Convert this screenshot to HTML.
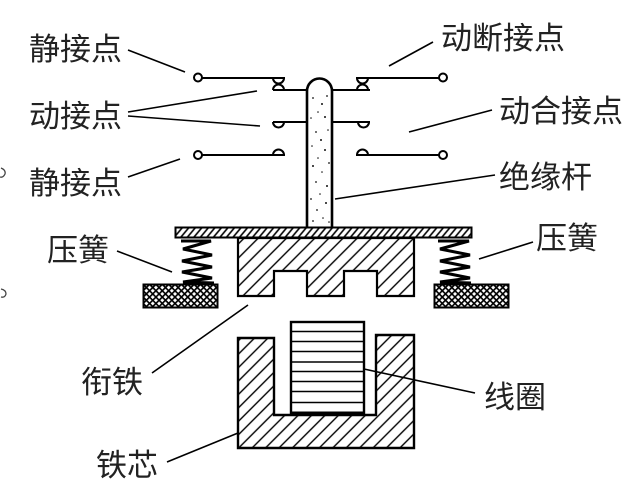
<!DOCTYPE html>
<html><head><meta charset="utf-8">
<style>
html,body{margin:0;padding:0;background:#fff;}
body{width:640px;height:487px;overflow:hidden;}
svg{display:block;}
text{font-family:"Liberation Sans","Noto Sans CJK SC","WenQuanYi Zen Hei",sans-serif;font-size:31px;fill:#222;}
</style></head>
<body>
<svg width="640" height="487" viewBox="0 0 640 487" xmlns="http://www.w3.org/2000/svg">
<defs>
  <pattern id="hPlate" width="5" height="5" patternUnits="userSpaceOnUse" patternTransform="rotate(40)">
    <rect width="5" height="5" fill="#fff"/>
    <line x1="1" y1="0" x2="1" y2="5" stroke="#000" stroke-width="1.6"/>
  </pattern>
  <pattern id="hArm" width="10" height="10" patternUnits="userSpaceOnUse" patternTransform="rotate(45)">
    <rect width="10" height="10" fill="#fff"/>
    <line x1="1" y1="0" x2="1" y2="10" stroke="#000" stroke-width="1.4"/>
  </pattern>
  <pattern id="hCore" width="9.5" height="10" patternUnits="userSpaceOnUse" patternTransform="rotate(45)">
    <rect width="10" height="10" fill="#fff"/>
    <line x1="1" y1="0" x2="1" y2="10" stroke="#000" stroke-width="1.4"/>
  </pattern>
  <pattern id="xh" width="4.5" height="4.5" patternUnits="userSpaceOnUse" patternTransform="rotate(45)">
    <rect width="4.5" height="4.5" fill="#fff"/>
    <line x1="0" y1="0.8" x2="4.5" y2="0.8" stroke="#000" stroke-width="1.7"/>
    <line x1="0.8" y1="0" x2="0.8" y2="4.5" stroke="#000" stroke-width="1.7"/>
  </pattern>
</defs>

<!-- edge artifacts -->
<path d="M1 168 Q6 170 5 174 Q3 178 0 177" fill="none" stroke="#444" stroke-width="1.3"/>
<path d="M1 289 Q6 290 6 294 Q5 298 1 297" fill="none" stroke="#444" stroke-width="1.3"/>

<!-- ===== contacts ===== -->
<g stroke="#000" stroke-width="2" fill="none">
  <!-- left static top -->
  <circle cx="198" cy="77.5" r="4" fill="#fff"/>
  <line x1="202" y1="78" x2="285" y2="78"/>
  <!-- right static top -->
  <circle cx="443" cy="77.5" r="4" fill="#fff"/>
  <line x1="356" y1="78" x2="439" y2="78"/>
  <!-- hourglass contacts -->
  <path d="M273 78 A5.5 5.5 0 0 0 284 78"/>
  <path d="M273 90 A5.5 5.5 0 0 1 284 90"/>
  <path d="M357 78 A5.5 5.5 0 0 0 368 78"/>
  <path d="M357 90 A5.5 5.5 0 0 1 368 90"/>
  <!-- moving bars -->
  <line x1="273" y1="90" x2="370" y2="90"/>
  <line x1="273" y1="122" x2="370" y2="122"/>
  <path d="M273 122 A5.5 5.5 0 0 0 284 122"/>
  <path d="M358 122 A5.5 5.5 0 0 0 369 122"/>
  <!-- bottom static -->
  <circle cx="198" cy="155" r="4" fill="#fff"/>
  <line x1="202" y1="155" x2="285" y2="155"/>
  <path d="M273 155 A5.5 5.5 0 0 1 284 155"/>
  <circle cx="443" cy="155" r="4" fill="#fff"/>
  <line x1="356" y1="155" x2="439" y2="155"/>
  <path d="M357 155 A5.5 5.5 0 0 1 368 155"/>
</g>

<!-- ===== rod ===== -->
<path d="M307 228 L307 91 A12.5 12.5 0 0 1 332 91 L332 228" fill="#fff" stroke="#000" stroke-width="2.6"/>
<g fill="#111">
  <circle cx="313" cy="98" r="0.9"/><circle cx="322" cy="104" r="1"/><circle cx="318" cy="112" r="0.8"/>
  <circle cx="327" cy="96" r="0.9"/><circle cx="311" cy="118" r="0.8"/><circle cx="325" cy="117" r="1"/>
  <circle cx="316" cy="132" r="0.9"/><circle cx="328" cy="130" r="0.8"/><circle cx="321" cy="140" r="1"/>
  <circle cx="312" cy="146" r="0.8"/><circle cx="325" cy="150" r="1"/><circle cx="318" cy="158" r="0.8"/>
  <circle cx="329" cy="163" r="0.9"/><circle cx="313" cy="166" r="1"/><circle cx="322" cy="172" r="0.8"/>
  <circle cx="316" cy="182" r="0.9"/><circle cx="327" cy="186" r="1"/><circle cx="320" cy="194" r="0.8"/>
  <circle cx="311" cy="199" r="0.9"/><circle cx="326" cy="203" r="1"/><circle cx="317" cy="210" r="0.9"/>
  <circle cx="323" cy="218" r="0.8"/><circle cx="313" cy="221" r="0.9"/><circle cx="329" cy="222" r="0.8"/>
</g>

<!-- ===== plate ===== -->
<rect x="175.5" y="227.5" width="296" height="10" fill="url(#hPlate)" stroke="#000" stroke-width="2"/>

<!-- ===== armature ===== -->
<path d="M238 238 L414 238 L414 296 L377 296 L377 271 L344 271 L344 296 L307 296 L307 271 L274 271 L274 296 L238 296 Z" fill="url(#hArm)" stroke="#000" stroke-width="2.2"/>

<!-- ===== springs ===== -->
<g fill="none" stroke="#000" stroke-width="3" stroke-linejoin="miter">
  <polyline points="181,241 211,241 183,249 212,255 182,261 212,267 182,272 212,278 183,282 214,283"/>
  <polyline points="438,241 469,241 440,249 470,255 440,261 470,267 440,272 470,278 440,282 471,283"/>
</g>

<!-- ===== bases ===== -->
<rect x="143.5" y="284.5" width="74" height="23" fill="url(#xh)" stroke="#000" stroke-width="2"/>
<rect x="434.5" y="284.5" width="74" height="23" fill="url(#xh)" stroke="#000" stroke-width="2"/>

<!-- ===== core ===== -->
<path d="M238 338 L274 338 L274 415 L376 415 L376 335 L414 335 L414 448 L238 448 Z" fill="url(#hCore)" stroke="#000" stroke-width="2.4"/>

<!-- ===== coil ===== -->
<rect x="291" y="322" width="73" height="92" fill="#fff" stroke="#000" stroke-width="2.4"/>
<g stroke="#000" stroke-width="1.6">
  <line x1="291" y1="331.5" x2="364" y2="331.5"/>
  <line x1="291" y1="341.5" x2="364" y2="341.5"/>
  <line x1="291" y1="351.5" x2="364" y2="351.5"/>
  <line x1="291" y1="362" x2="364" y2="362"/>
  <line x1="291" y1="371.5" x2="364" y2="371.5"/>
  <line x1="291" y1="381.5" x2="364" y2="381.5"/>
  <line x1="291" y1="391.5" x2="364" y2="391.5"/>
  <line x1="291" y1="402.5" x2="364" y2="402.5"/>
</g>
<line x1="291" y1="413" x2="364" y2="413" stroke="#000" stroke-width="3"/>

<!-- ===== leader lines ===== -->
<g stroke="#000" stroke-width="1.6">
  <line x1="128" y1="50" x2="185" y2="72"/>
  <line x1="128" y1="112" x2="257" y2="91"/>
  <line x1="128" y1="116" x2="260" y2="126"/>
  <line x1="128" y1="177" x2="180" y2="159"/>
  <line x1="389" y1="66" x2="433" y2="42"/>
  <line x1="409" y1="132" x2="492" y2="110"/>
  <line x1="335" y1="199" x2="495" y2="175"/>
  <line x1="117" y1="251" x2="172" y2="272"/>
  <line x1="479" y1="259" x2="533" y2="242"/>
  <line x1="152" y1="373" x2="248" y2="305"/>
  <line x1="364" y1="369" x2="475" y2="393"/>
  <line x1="167" y1="462" x2="238" y2="433"/>
</g>

<!-- ===== labels ===== -->
<text x="29" y="60">静接点</text>
<text x="29" y="127">动接点</text>
<text x="29" y="194">静接点</text>
<text x="47" y="261">压簧</text>
<text x="81" y="393">衔铁</text>
<text x="96" y="476">铁芯</text>
<text x="441" y="49">动断接点</text>
<text x="499" y="122">动合接点</text>
<text x="499" y="188">绝缘杆</text>
<text x="536" y="249">压簧</text>
<text x="484" y="408">线圈</text>
</svg>
</body></html>
